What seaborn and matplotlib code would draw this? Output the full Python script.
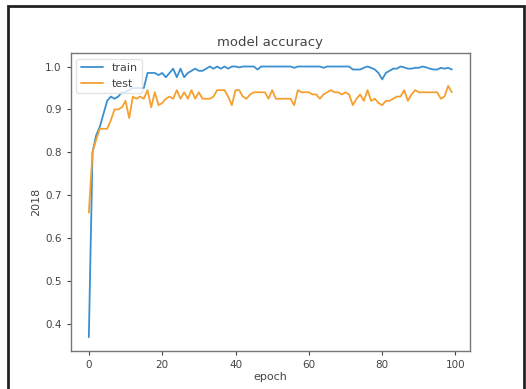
import numpy as np
import pandas as pd
import matplotlib
matplotlib.use("Agg")
import matplotlib.pyplot as plt
from matplotlib.patches import Rectangle
import seaborn as sns

epochs = list(range(100))
train_acc = [0.37, 0.80, 0.84, 0.86, 0.89, 0.92, 0.93, 0.925, 0.93, 0.94,
             0.94, 0.945, 0.95, 0.95, 0.95, 0.95, 0.985, 0.985, 0.985, 0.98,
             0.985, 0.975, 0.985, 0.995, 0.975, 0.995, 0.975, 0.985, 0.99, 0.995,
             0.99, 0.99, 0.995, 1.0, 0.995, 1.0, 0.995, 1.0, 0.995, 1.0,
             1.0, 0.998, 1.0, 1.0, 1.0, 1.0, 0.993, 1.0, 1.0, 1.0,
             1.0, 1.0, 1.0, 1.0, 1.0, 1.0, 0.997, 1.0, 1.0, 1.0,
             1.0, 1.0, 1.0, 1.0, 0.997, 1.0, 1.0, 1.0, 1.0, 1.0,
             1.0, 1.0, 0.993, 0.993, 0.993, 0.997, 1.0, 0.997, 0.993, 0.985,
             0.97, 0.985, 0.99, 0.995, 0.995, 1.0, 0.998, 0.995, 0.995, 0.997,
             0.997, 1.0, 0.998, 0.995, 0.993, 0.993, 0.997, 0.995, 0.997, 0.993]
test_acc = [0.66, 0.80, 0.83, 0.855, 0.855, 0.855, 0.875, 0.90, 0.90, 0.905,
            0.92, 0.88, 0.93, 0.925, 0.93, 0.925, 0.945, 0.905, 0.94, 0.91,
            0.915, 0.925, 0.93, 0.925, 0.945, 0.925, 0.94, 0.925, 0.945, 0.925,
            0.94, 0.925, 0.925, 0.925, 0.93, 0.945, 0.945, 0.945, 0.93, 0.91,
            0.945, 0.945, 0.93, 0.925, 0.935, 0.94, 0.94, 0.94, 0.94, 0.925,
            0.945, 0.925, 0.925, 0.925, 0.925, 0.925, 0.91, 0.945, 0.94, 0.94,
            0.94, 0.935, 0.935, 0.925, 0.935, 0.94, 0.945, 0.94, 0.94, 0.935,
            0.94, 0.935, 0.91, 0.925, 0.935, 0.92, 0.945, 0.92, 0.925, 0.915,
            0.91, 0.92, 0.92, 0.925, 0.93, 0.93, 0.945, 0.92, 0.935, 0.945,
            0.94, 0.94, 0.94, 0.94, 0.94, 0.94, 0.925, 0.93, 0.955, 0.94]
series_names = ["train", "test"]
title = "model accuracy"
x_label = "epoch"
y_label = "2018"

df = pd.DataFrame({
    "epoch": epochs * 2,
    "value": train_acc + test_acc,
    "series": [series_names[0]] * len(epochs) + [series_names[1]] * len(epochs),
})

sns.set_style("ticks")
plt.rcParams["font.family"] = ["DejaVu Sans"]

fig = plt.figure(figsize=(5.26, 3.89), dpi=100)
ax = fig.add_axes([0.1344, 0.0985, 0.7591, 0.7653])

text_color = "#444444"
sns.lineplot(data=df, x="epoch", y="value", hue="series",
             palette=["#3a8fd0", "#f5a030"], linewidth=1.3, ax=ax)

ax.set_xlim(-4.95, 103.95)
ax.set_ylim(0.3385, 1.0315)
ax.set_xticks([0, 20, 40, 60, 80, 100])
ax.set_yticks([0.4, 0.5, 0.6, 0.7, 0.8, 0.9, 1.0])
ax.tick_params(labelsize=7.5, colors=text_color, length=3, width=0.8)
for sp in ax.spines.values():
    sp.set_visible(True)
    sp.set_color("#777777")
    sp.set_linewidth(1.0)

ax.set_title(title, fontsize=9.5, color=text_color, pad=5)
ax.set_xlabel(x_label, fontsize=8, color=text_color, labelpad=2)
ax.set_ylabel(y_label, fontsize=8, color=text_color, labelpad=3)

leg = ax.legend(loc="upper left", fontsize=8, frameon=True, framealpha=0.8,
                edgecolor="#dddddd", handlelength=2.0)
for t in leg.get_texts():
    t.set_color(text_color)

fig.add_artist(Rectangle((8 / 526, -0.05), (524 - 8) / 526, (389 - 6) / 389 + 0.05,
                         transform=fig.transFigure, fill=False,
                         edgecolor="#222222", linewidth=2.0))

fig.savefig("out.png", dpi=100)
